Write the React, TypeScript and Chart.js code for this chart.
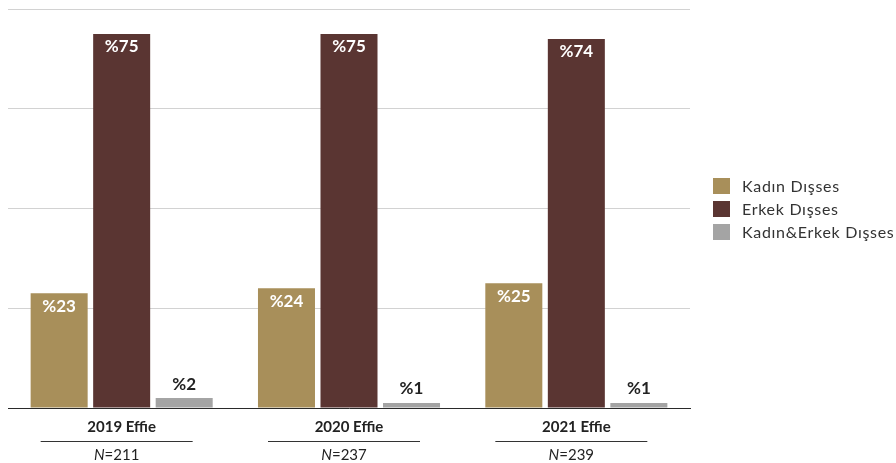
import React, { useEffect, useRef } from "react";
import { Chart, registerables } from "chart.js";

Chart.register(...registerables);

// Dataset values (percent shares per year)
const categories = ["2019 Effie", "2020 Effie", "2021 Effie"];
const sampleSizes = [211, 237, 239];
const seriesNames = ["Kadın Dışses", "Erkek Dışses", "Kadın&Erkek Dışses"];
const femaleVoice = [23, 24, 25];
const maleVoice = [75, 75, 74];
const mixedVoice = [2, 1, 1];
const yTicks = [0, 20, 40, 60, 80];

const COLORS = ["#A88F5A", "#5A3532", "#A4A4A4"];
const FONT = "Lato, 'Noto Sans', sans-serif";
const TEXT_DARK = "#222222";

const W = 896;
const H = 463;

// Percentage labels on bars, category captions and legend
const decorations = {
  id: "decorations",
  afterDatasetsDraw(chart: any) {
    const ctx = chart.ctx as CanvasRenderingContext2D;
    ctx.save();
    ctx.textAlign = "center";
    ctx.textBaseline = "middle";
    ctx.font = `bold 17px ${FONT}`;
    chart.data.datasets.forEach((ds: any, di: number) => {
      const meta = chart.getDatasetMeta(di);
      meta.data.forEach((bar: any, i: number) => {
        const label = "%" + ds.data[i];
        if (di < 2) {
          ctx.fillStyle = "#ffffff";
          ctx.fillText(label, bar.x, bar.y + 13);
        } else {
          ctx.fillStyle = TEXT_DARK;
          ctx.fillText(label, bar.x, bar.y - 14);
        }
      });
    });
    ctx.restore();
  },
  afterDraw(chart: any) {
    const ctx = chart.ctx as CanvasRenderingContext2D;
    const xScale = chart.scales.x;
    const bottom = chart.chartArea.bottom;
    ctx.save();
    ctx.textBaseline = "middle";
    categories.forEach((cat, i) => {
      const cx = xScale.getPixelForValue(i);
      ctx.textAlign = "center";
      ctx.fillStyle = TEXT_DARK;
      ctx.font = `bold 15px ${FONT}`;
      ctx.fillText(cat, cx, bottom + 19);

      const ux = cx - 5;
      ctx.strokeStyle = "#333333";
      ctx.lineWidth = 1;
      ctx.beginPath();
      ctx.moveTo(ux - 76, bottom + 33.5);
      ctx.lineTo(ux + 76, bottom + 33.5);
      ctx.stroke();

      // "N=xxx" with italic N
      const nPart = "N";
      const rest = "=" + sampleSizes[i];
      ctx.font = `italic 15px ${FONT}`;
      const nW = ctx.measureText(nPart).width;
      ctx.font = `15px ${FONT}`;
      const rW = ctx.measureText(rest).width;
      const start = ux - (nW + rW) / 2;
      ctx.textAlign = "left";
      ctx.font = `italic 15px ${FONT}`;
      ctx.fillText(nPart, start, bottom + 47);
      ctx.font = `15px ${FONT}`;
      ctx.fillText(rest, start + nW, bottom + 47);
    });

    // Legend
    const lx = chart.chartArea.right + 23;
    const ly = 186;
    ctx.font = `16px ${FONT}`;
    (ctx as any).letterSpacing = "0.7px";
    ctx.textAlign = "left";
    seriesNames.forEach((name, i) => {
      const y = ly + i * 23;
      ctx.fillStyle = COLORS[i];
      ctx.fillRect(lx, y - 8, 17, 16);
      ctx.fillStyle = "#333333";
      ctx.fillText(name, lx + 29, y + 1);
    });
    ctx.restore();
  },
};

export default function App() {
  const canvasRef = useRef<HTMLCanvasElement | null>(null);

  useEffect(() => {
    if (!canvasRef.current) return;
    const chart = new Chart(canvasRef.current, {
      type: "bar",
      data: {
        labels: categories,
        datasets: [
          { label: seriesNames[0], data: femaleVoice, backgroundColor: COLORS[0] },
          { label: seriesNames[1], data: maleVoice, backgroundColor: COLORS[1] },
          { label: seriesNames[2], data: mixedVoice, backgroundColor: COLORS[2] },
        ],
      },
      options: {
        responsive: false,
        animation: false,
        devicePixelRatio: 1,
        layout: { padding: { left: 8, right: 206, top: 9, bottom: 55 } },
        datasets: { bar: { categoryPercentage: 0.825, barPercentage: 0.912 } },
        plugins: {
          legend: { display: false },
          tooltip: { enabled: false },
        },
        scales: {
          x: {
            grid: { display: false, drawTicks: false },
            ticks: { display: false },
            border: { display: true, color: "#2a2a2a", width: 1 },
          },
          y: {
            min: yTicks[0],
            max: yTicks[yTicks.length - 1],
            ticks: { display: false, stepSize: yTicks[1] - yTicks[0] },
            grid: { color: "#D2D2D2", lineWidth: 1, drawTicks: false },
            border: { display: false },
          },
        },
      },
      plugins: [decorations],
    });
    return () => chart.destroy();
  }, []);

  return (
    <div style={{ position: "absolute", left: 0, top: 0, width: W, height: H, background: "#fff" }}>
      <canvas ref={canvasRef} width={W} height={H} style={{ display: "block" }} />
    </div>
  );
}
